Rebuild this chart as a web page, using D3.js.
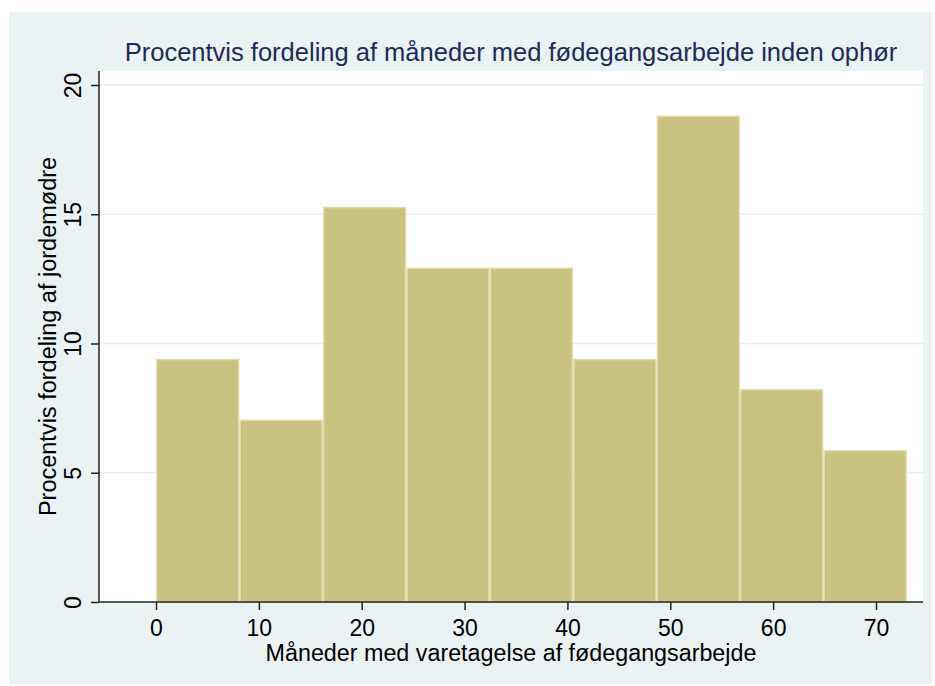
<!DOCTYPE html>
<html>
<head>
<meta charset="utf-8">
<script src="https://cdn.jsdelivr.net/npm/d3@7"></script>
<style>
  html, body { margin: 0; padding: 0; background: #ffffff; }
  svg { display: block; }
  text { font-family: "Liberation Sans", Arial, Helvetica, sans-serif; }
</style>
</head>
<body>
<svg id="chart" width="935" height="686"></svg>
<script>
// ---- data ----
const binEdges = [0, 8.111, 16.222, 24.333, 32.444, 40.556, 48.667, 56.778, 64.889, 73];
const percentValues = [9.41, 7.06, 15.29, 12.94, 12.94, 9.41, 18.82, 8.24, 5.88];
const xTicks = [0, 10, 20, 30, 40, 50, 60, 70];
const yTicks = [0, 5, 10, 15, 20];
const titleText = "Procentvis fordeling af måneder med fødegangsarbejde inden ophør";
const xLabel = "Måneder med varetagelse af fødegangsarbejde";
const yLabel = "Procentvis fordeling af jordemødre";

// ---- layout ----
const plot = { left: 99, right: 923, top: 71, bottom: 602 };
const svg = d3.select("#chart");

svg.append("rect").attr("x", 9).attr("y", 12).attr("width", 923).attr("height", 672)
  .attr("fill", "#eaf2f3");
svg.append("rect").attr("x", plot.left).attr("y", plot.top)
  .attr("width", plot.right - plot.left).attr("height", plot.bottom - plot.top)
  .attr("fill", "#ffffff");

const x = d3.scaleLinear().domain([0, 70]).range([156, 876]);
const y = d3.scaleLinear().domain([0, 20]).range([602, 85]);

// grid lines
svg.append("g").selectAll("line").data(yTicks.filter(d => d > 0)).join("line")
  .attr("x1", plot.left).attr("x2", plot.right)
  .attr("y1", d => y(d)).attr("y2", d => y(d))
  .attr("stroke", "#e6efef").attr("stroke-width", 1.5);

// bars
const bins = percentValues.map((v, i) => ({ x0: binEdges[i], x1: binEdges[i + 1], v }));
svg.append("g").selectAll("rect").data(bins).join("rect")
  .attr("x", d => x(d.x0) + 0.75)
  .attr("y", d => y(d.v) + 0.75)
  .attr("width", d => x(d.x1) - x(d.x0) - 1.5)
  .attr("height", d => y(0) - y(d.v) - 0.75)
  .attr("fill", "#c9c17f")
  .attr("stroke", "#e2ddad")
  .attr("stroke-width", 1.5);

// axes
const xAxis = d3.axisBottom(x).tickValues(xTicks).tickSize(8).tickFormat(d3.format("d"));
const gx = svg.append("g").attr("transform", `translate(0,${plot.bottom})`).call(xAxis);
gx.select(".domain").remove();
gx.append("line").attr("x1", plot.left).attr("x2", plot.right).attr("y1", 0).attr("y2", 0)
  .attr("stroke", "#222").attr("stroke-width", 1.5);
gx.selectAll(".tick line").attr("stroke", "#222").attr("stroke-width", 1.5);
gx.selectAll(".tick text").attr("fill", "#000").style("font-size", "23px")
  .attr("y", 34).attr("dy", 0);

const yAxis = d3.axisLeft(y).tickValues(yTicks).tickSize(8).tickFormat(d3.format("d"));
const gy = svg.append("g").attr("transform", `translate(${plot.left},0)`).call(yAxis);
gy.select(".domain").remove();
gy.append("line").attr("x1", 0).attr("x2", 0).attr("y1", plot.top).attr("y2", plot.bottom)
  .attr("stroke", "#222").attr("stroke-width", 1.5);
gy.selectAll(".tick line").attr("stroke", "#222").attr("stroke-width", 1.5);
gy.selectAll(".tick text").attr("fill", "#000").style("font-size", "23px")
  .attr("x", null).attr("dy", null)
  .attr("text-anchor", "middle")
  .attr("transform", "translate(-18,0) rotate(-90)");

// title
svg.append("text").attr("x", (plot.left + plot.right) / 2).attr("y", 61)
  .attr("text-anchor", "middle").attr("fill", "#1c2b57")
  .style("font-size", "25.5px").text(titleText);

// x label
svg.append("text").attr("x", (plot.left + plot.right) / 2).attr("y", 661)
  .attr("text-anchor", "middle").attr("fill", "#000")
  .style("font-size", "23.3px").text(xLabel);

// y label
svg.append("text").attr("transform", `translate(56,${(plot.top + plot.bottom) / 2}) rotate(-90)`)
  .attr("text-anchor", "middle").attr("fill", "#000")
  .style("font-size", "23.5px").text(yLabel);
</script>
</body>
</html>
